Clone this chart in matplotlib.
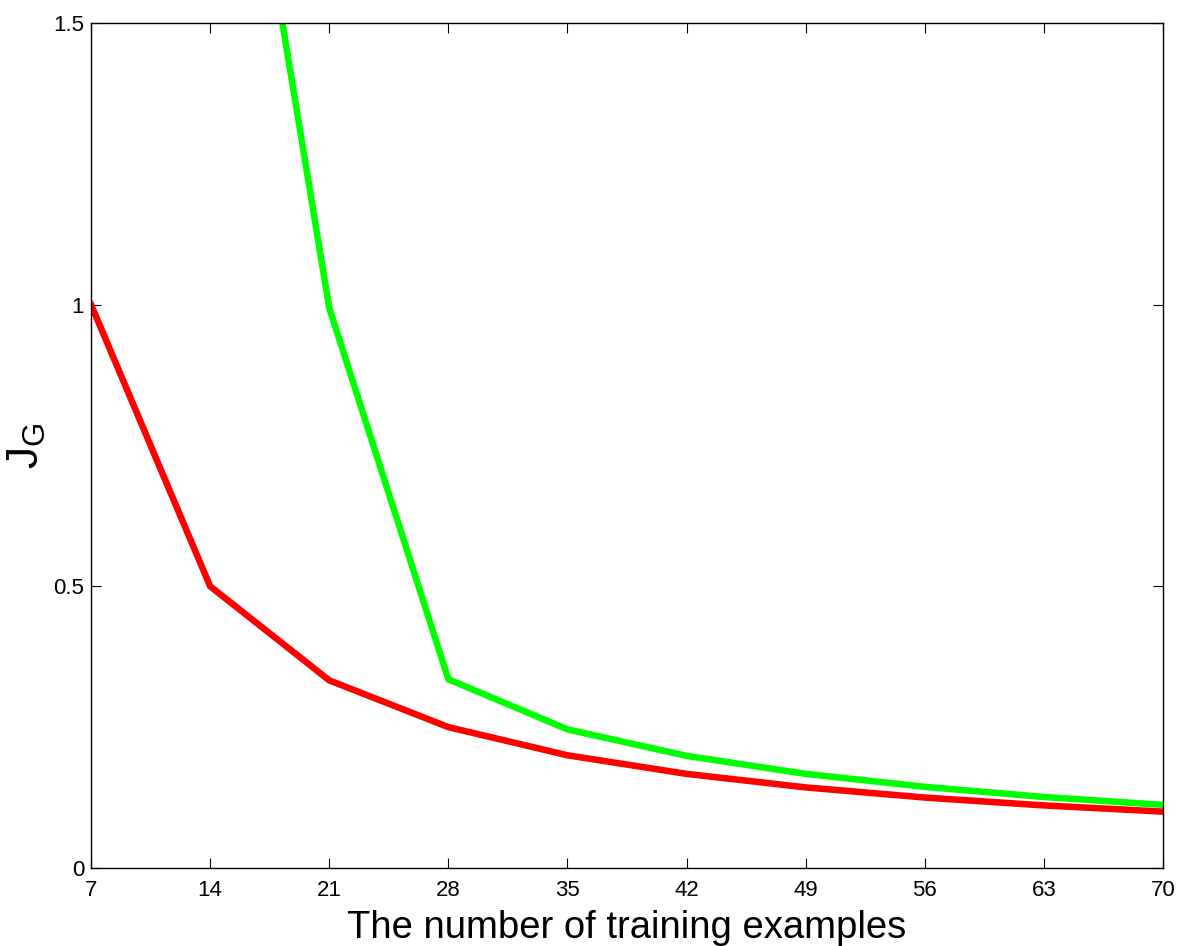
import matplotlib
matplotlib.use("Agg")
import matplotlib.pyplot as plt

# data
n_examples = [7, 14, 21, 28, 35, 42, 49, 56, 63, 70]
red_vals = [1.0, 0.5, 0.333, 0.25, 0.2, 0.167, 0.143, 0.125, 0.111, 0.1]
green_x = [14, 21, 28, 35, 42, 49, 56, 63, 70]
green_vals = [2.28, 0.994, 0.335, 0.246, 0.199, 0.167, 0.144, 0.126, 0.112]
y_ticks = [0, 0.5, 1, 1.5]
y_tick_labels = ["0", "0.5", "1", "1.5"]

plt.rcParams["font.family"] = ["Liberation Sans", "DejaVu Sans"]
plt.rcParams["mathtext.fontset"] = "custom"
plt.rcParams["mathtext.rm"] = "Liberation Sans"
plt.rcParams["mathtext.it"] = "Liberation Sans"


def main():
    fig = plt.figure(figsize=(11.81, 9.46), dpi=100)
    ax = fig.add_axes([0.0771, 0.0825, 0.9077, 0.8932])

    ax.plot(n_examples, red_vals, color="#ff0000", linewidth=4.7, solid_joinstyle="miter")
    ax.plot(green_x, green_vals, color="#00ff00", linewidth=4.7, solid_joinstyle="miter")

    ax.set_xlim(7, 70)
    ax.set_ylim(0, 1.5)
    ax.set_xticks(n_examples)
    ax.set_yticks(y_ticks)
    ax.set_yticklabels(y_tick_labels)
    ax.tick_params(direction="in", length=7, width=0.8, labelsize=16,
                   top=True, right=True)
    ax.tick_params(axis="x", pad=9)
    ax.tick_params(axis="y", pad=5)
    for s in ax.spines.values():
        s.set_linewidth(1.0)

    ax.set_xlabel("The number of training examples", fontsize=27.5, labelpad=6)
    ax.set_ylabel(r"$\mathrm{J_G}$", fontsize=32, labelpad=4)

    fig.savefig("out.png", dpi=100)


if __name__ == "__main__":
    main()
